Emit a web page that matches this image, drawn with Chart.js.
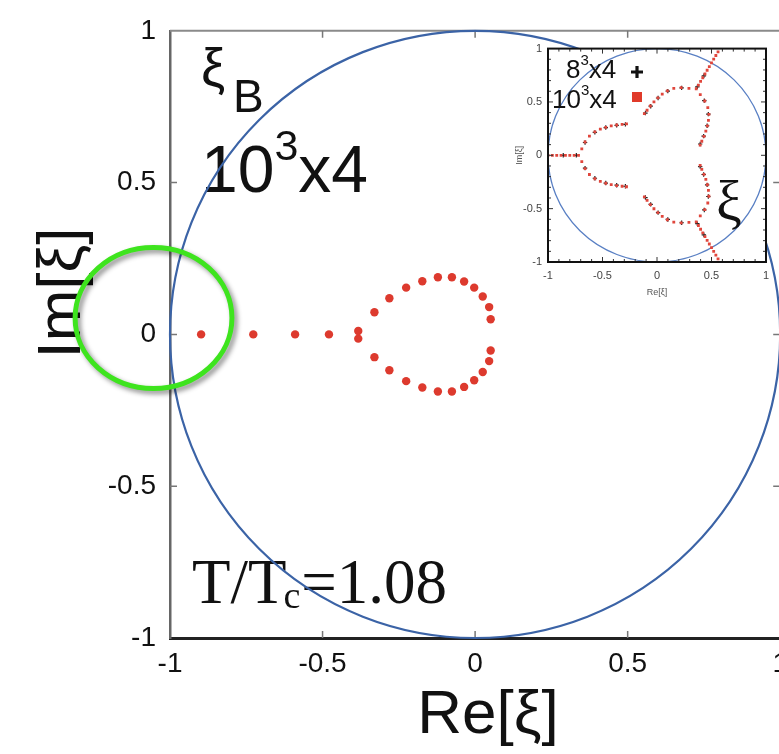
<!DOCTYPE html>
<html>
<head>
<meta charset="utf-8">
<script src="https://cdn.jsdelivr.net/npm/chart.js@4.4.1/dist/chart.umd.min.js"></script>
<style>
  html, body { margin: 0; padding: 0; background: #ffffff; overflow: hidden; }
  #wrap { position: relative; width: 779px; height: 754px; overflow: hidden; }
  #mainChart { position: absolute; left: 0; top: 0; }
  #insetChart { position: absolute; left: 510px; top: 36px; }
</style>
</head>
<body>
<div id="wrap">
  <canvas id="mainChart" width="797" height="754"></canvas>
  <canvas id="insetChart" width="269" height="266"></canvas>
</div>
<script>
// Lee-Yang zeros of the baryon fugacity xi_B, 10^3x4 lattice, T/Tc = 1.08
const zerosAxisRe  = [-0.898, -0.727, -0.590, -0.479];
const zerosAxisIm  = [0, 0, 0, 0];
const zerosUpperRe = [-0.383, -0.330, -0.281, -0.226, -0.173, -0.122, -0.076, -0.036, -0.003, 0.025, 0.046, 0.051];
const zerosUpperIm = [0.011, 0.073, 0.119, 0.154, 0.175, 0.188, 0.188, 0.174, 0.154, 0.125, 0.090, 0.050];
const zerosLowerRe = [-0.383, -0.330, -0.281, -0.226, -0.173, -0.122, -0.076, -0.036, -0.003, 0.025, 0.046, 0.051];
const zerosLowerIm = [-0.014, -0.075, -0.118, -0.154, -0.175, -0.188, -0.188, -0.173, -0.151, -0.124, -0.088, -0.053];

// axis ticks (both charts)
const tickValues = [-1, -0.5, 0, 0.5, 1];
const tickLabels = ['-1', '-0.5', '0', '0.5', '1'];

// highlighted region around the outermost zero (centre Re, Im and half-axes)
const highlightCentre = [-1.054, 0.054];
const highlightRadii  = [0.257, 0.232];

// inset: zeros of xi (canonical fugacity), 10^3x4 lattice
const inset10Left = [[-1.00,0],[-0.96,0],[-0.92,0],[-0.88,0],[-0.84,0],[-0.80,0],[-0.76,0],[-0.72,0],
  [-0.69,0.06],[-0.66,0.125],[-0.62,0.18],[-0.57,0.22],[-0.52,0.245],[-0.47,0.262],[-0.42,0.275],[-0.37,0.284],[-0.32,0.29],[-0.28,0.295],
  [-0.69,-0.06],[-0.66,-0.125],[-0.62,-0.18],[-0.57,-0.22],[-0.52,-0.245],[-0.47,-0.262],[-0.42,-0.275],[-0.37,-0.284],[-0.32,-0.29],[-0.28,-0.295]];
const inset10Upper = [[0.36,0.624],[0.38,0.658],[0.40,0.693],[0.42,0.727],[0.44,0.762],[0.46,0.797],[0.48,0.831],[0.50,0.866],[0.52,0.901],[0.54,0.935],[0.56,0.970],
  [0.397,0.568],[0.438,0.509],[0.466,0.447],[0.476,0.384],[0.472,0.328],[0.462,0.276],[0.448,0.226],[0.431,0.178],[0.411,0.132],[0.396,0.095],
  [0.293,0.628],[0.222,0.634],[0.154,0.627],[0.095,0.604],[0.048,0.573],[0.008,0.538],[-0.028,0.501],[-0.061,0.462],[-0.091,0.422],[-0.116,0.390]];
const inset10Lower = [[0.36,-0.624],[0.38,-0.658],[0.40,-0.693],[0.42,-0.727],[0.44,-0.762],[0.46,-0.797],[0.48,-0.831],[0.50,-0.866],[0.52,-0.901],[0.54,-0.935],[0.56,-0.970],
  [0.397,-0.568],[0.438,-0.509],[0.466,-0.447],[0.476,-0.384],[0.472,-0.328],[0.462,-0.276],[0.448,-0.226],[0.431,-0.178],[0.411,-0.132],[0.396,-0.095],
  [0.293,-0.628],[0.222,-0.634],[0.154,-0.627],[0.095,-0.604],[0.048,-0.573],[0.008,-0.538],[-0.028,-0.501],[-0.061,-0.462],[-0.091,-0.422],[-0.116,-0.390]];
// inset: 8^3x4 lattice
const inset8Left = [[-0.74,0],[-0.86,0],
  [-0.66,0.12],[-0.57,0.215],[-0.47,0.26],[-0.37,0.28],[-0.29,0.29],
  [-0.66,-0.12],[-0.57,-0.215],[-0.47,-0.26],[-0.37,-0.28],[-0.29,-0.29]];
const inset8Upper = [[0.37,0.641],[0.43,0.745],
  [0.434,0.512],[0.471,0.386],[0.46,0.277],[0.428,0.180],[0.396,0.106],
  [0.226,0.632],[0.099,0.601],[0.01,0.537],[-0.058,0.460],[-0.106,0.396]];
const inset8Lower = [[0.37,-0.641],[0.43,-0.745],
  [0.434,-0.512],[0.471,-0.386],[0.46,-0.277],[0.428,-0.180],[0.396,-0.106],
  [0.226,-0.632],[0.099,-0.601],[0.01,-0.537],[-0.058,-0.460],[-0.106,-0.396]];

const SANS = "'Liberation Sans', Arial, Helvetica, sans-serif";
const SERIF = "'Liberation Serif', 'Times New Roman', serif";
const RED = '#dd3a2e';
const BLUE = '#3b63a6';

const toXY = (re, im) => re.map((r, i) => ({ x: r, y: im[i] }));
const pairsToXY = p => p.map(([x, y]) => ({ x, y }));

function fixedTicks(scale) { scale.ticks = tickValues.map(v => ({ value: v })); }
function tickText(v) { const i = tickValues.indexOf(v); return i >= 0 ? tickLabels[i] : ''; }

// draws a run of text pieces with their own fonts and vertical offsets
function richText(ctx, x, y, parts) {
  let cx = x;
  for (const p of parts) {
    ctx.font = p.font;
    ctx.fillText(p.text, cx, y + (p.dy || 0));
    cx += ctx.measureText(p.text).width + (p.gap || 0);
  }
  return cx;
}

const mainDecor = {
  id: 'mainDecor',
  beforeDatasetsDraw(chart) {
    const { ctx, chartArea: a, scales: { x, y } } = chart;
    ctx.save();
    // annotations inside the plot
    ctx.fillStyle = '#111';
    ctx.textAlign = 'left';
    ctx.textBaseline = 'alphabetic';
    richText(ctx, 201, 86, [{ text: 'ξ', font: `54px ${SANS}` }]);
    richText(ctx, 233, 112, [{ text: 'B', font: `46px ${SANS}` }]);
    richText(ctx, 201, 192, [
      { text: '10', font: `66px ${SANS}`, gap: 0 },
      { text: '3', font: `43px ${SANS}`, dy: -32, gap: 0 },
      { text: 'x4', font: `66px ${SANS}` }
    ]);
    richText(ctx, 192, 603, [
      { text: 'T/T', font: `63px ${SERIF}`, gap: -3 },
      { text: 'c', font: `38px ${SERIF}`, dy: 5, gap: 1 },
      { text: '=1.08', font: `63px ${SERIF}` }
    ]);

    // frame: top and right edges
    ctx.strokeStyle = '#8a8a8a';
    ctx.lineWidth = 2;
    ctx.beginPath();
    ctx.moveTo(a.left, a.top);
    ctx.lineTo(a.right, a.top);
    ctx.lineTo(a.right, a.bottom);
    ctx.stroke();

    // inward tick marks on all four sides
    ctx.strokeStyle = '#777';
    ctx.lineWidth = 1.5;
    ctx.beginPath();
    for (const v of tickValues) {
      if (v <= -1 || v >= 1) continue;
      const px = x.getPixelForValue(v);
      ctx.moveTo(px, a.top); ctx.lineTo(px, a.top + 7);
      ctx.moveTo(px, a.bottom); ctx.lineTo(px, a.bottom - 7);
      const py = y.getPixelForValue(v);
      ctx.moveTo(a.left, py); ctx.lineTo(a.left + 7, py);
      ctx.moveTo(a.right, py); ctx.lineTo(a.right - 7, py);
    }
    ctx.stroke();

    // unit circle |xi| = 1
    const cx = x.getPixelForValue(0), cy = y.getPixelForValue(0);
    const rx = x.getPixelForValue(1) - cx, ry = cy - y.getPixelForValue(1);
    ctx.strokeStyle = BLUE;
    ctx.lineWidth = 2.2;
    ctx.beginPath();
    ctx.ellipse(cx, cy, rx, ry, 0, 0, Math.PI * 2);
    ctx.stroke();
    ctx.restore();
  },
  afterDraw(chart) {
    const { ctx, scales: { x, y } } = chart;
    ctx.save();
    // axis titles
    ctx.fillStyle = '#111';
    ctx.font = `62px ${SANS}`;
    ctx.textAlign = 'center';
    ctx.textBaseline = 'alphabetic';
    ctx.fillText('Re[ξ]', 488, 733);
    ctx.translate(80, 293);
    ctx.rotate(-Math.PI / 2);
    ctx.fillText('Im[ξ]', 0, 0);
    ctx.restore();

    // green ring around the outermost zero
    ctx.save();
    const ex = x.getPixelForValue(highlightCentre[0]);
    const ey = y.getPixelForValue(highlightCentre[1]);
    const erx = x.getPixelForValue(highlightCentre[0] + highlightRadii[0]) - ex;
    const ery = ey - y.getPixelForValue(highlightCentre[1] + highlightRadii[1]);
    ctx.shadowColor = 'rgba(0,0,0,0.45)';
    ctx.shadowBlur = 5;
    ctx.shadowOffsetX = 3;
    ctx.shadowOffsetY = 3;
    ctx.strokeStyle = '#3ee41e';
    ctx.lineWidth = 5;
    ctx.beginPath();
    ctx.ellipse(ex, ey, erx, ery, 0, 0, Math.PI * 2);
    ctx.stroke();
    ctx.restore();
  }
};

new Chart(document.getElementById('mainChart'), {
  type: 'scatter',
  data: {
    datasets: [
      { data: toXY(zerosAxisRe, zerosAxisIm), backgroundColor: RED, borderWidth: 0, pointRadius: 4.2 },
      { data: toXY(zerosUpperRe, zerosUpperIm), backgroundColor: RED, borderWidth: 0, pointRadius: 4.2 },
      { data: toXY(zerosLowerRe, zerosLowerIm), backgroundColor: RED, borderWidth: 0, pointRadius: 4.2 }
    ]
  },
  options: {
    responsive: false,
    animation: false,
    events: [],
    layout: { padding: { top: 30, right: 0, left: 0, bottom: 0 } },
    plugins: { legend: { display: false }, tooltip: { enabled: false } },
    scales: {
      x: {
        type: 'linear', min: -1, max: 1,
        afterBuildTicks: fixedTicks,
        afterFit(s) { s.height = 116; },
        grid: { display: false, drawTicks: false },
        border: { display: true, color: '#222', width: 3 },
        ticks: { callback: tickText, autoSkip: false, maxRotation: 0, padding: 9, color: '#111', font: { family: SANS, size: 28 } }
      },
      y: {
        type: 'linear', min: -1, max: 1,
        afterBuildTicks: fixedTicks,
        afterFit(s) { s.width = 170; },
        grid: { display: false, drawTicks: false },
        border: { display: true, color: '#666', width: 2.5 },
        ticks: { callback: tickText, autoSkip: false, padding: 14, color: '#111', font: { family: SANS, size: 28 } }
      }
    }
  },
  plugins: [mainDecor]
});

// ---------- inset ----------
const insetDecor = {
  id: 'insetDecor',
  beforeDraw(chart) {
    const { ctx, chartArea: a } = chart;
    ctx.save();
    ctx.fillStyle = '#ffffff';
    ctx.fillRect(a.left, a.top, a.right - a.left, a.bottom - a.top);
    ctx.restore();
  },
  beforeDatasetsDraw(chart) {
    const { ctx, chartArea: a, scales: { x, y } } = chart;
    ctx.save();
    ctx.beginPath();
    ctx.rect(a.left, a.top, a.right - a.left, a.bottom - a.top);
    ctx.clip();
    const cx = x.getPixelForValue(0), cy = y.getPixelForValue(0);
    ctx.strokeStyle = '#5a80c4';
    ctx.lineWidth = 1.3;
    ctx.beginPath();
    ctx.ellipse(cx, cy, x.getPixelForValue(1) - cx, cy - y.getPixelForValue(1), 0, 0, Math.PI * 2);
    ctx.stroke();

    // big xi label
    ctx.fillStyle = '#111';
    ctx.textBaseline = 'alphabetic';
    ctx.textAlign = 'left';
    ctx.font = `58px ${SERIF}`;
    ctx.fillText('ξ', 716 - 510, 220 - 36);

    // legend
    richText(ctx, 566 - 510, 78 - 36, [
      { text: '8', font: `26px ${SANS}` },
      { text: '3', font: `15px ${SANS}`, dy: -13 },
      { text: 'x4', font: `26px ${SANS}` }
    ]);
    richText(ctx, 552 - 510, 108 - 36, [
      { text: '10', font: `26px ${SANS}` },
      { text: '3', font: `15px ${SANS}`, dy: -13 },
      { text: 'x4', font: `26px ${SANS}` }
    ]);
    const mx = 637 - 510;
    ctx.strokeStyle = '#111';
    ctx.lineWidth = 3.2;
    ctx.beginPath();
    ctx.moveTo(mx - 6, 72 - 36); ctx.lineTo(mx + 6, 72 - 36);
    ctx.moveTo(mx, 66 - 36); ctx.lineTo(mx, 78 - 36);
    ctx.stroke();
    ctx.fillStyle = '#e03a2a';
    ctx.fillRect(mx - 5, 97 - 36 - 5, 10, 10);
    ctx.restore();
  },
  afterDraw(chart) {
    const { ctx, chartArea: a, scales: { x, y } } = chart;
    ctx.save();
    ctx.strokeStyle = '#333';
    ctx.lineWidth = 1;
    ctx.beginPath();
    for (let k = -9; k <= 9; k++) {
      const v = k / 10;
      const len = (k % 5 === 0) ? 5 : 3;
      const px = x.getPixelForValue(v), py = y.getPixelForValue(v);
      ctx.moveTo(px, a.top); ctx.lineTo(px, a.top + len);
      ctx.moveTo(px, a.bottom); ctx.lineTo(px, a.bottom - len);
      ctx.moveTo(a.left, py); ctx.lineTo(a.left + len, py);
      ctx.moveTo(a.right, py); ctx.lineTo(a.right - len, py);
    }
    ctx.stroke();
    ctx.strokeStyle = '#111';
    ctx.lineWidth = 2;
    ctx.strokeRect(a.left, a.top, a.right - a.left, a.bottom - a.top);
    ctx.restore();
  }
};

const redSet = p => ({ data: pairsToXY(p), pointStyle: 'rect', pointRadius: 2, backgroundColor: '#e0463c', borderWidth: 0 });
const blackSet = p => ({ data: pairsToXY(p), pointStyle: 'cross', pointRadius: 2.2, borderColor: '#222', borderWidth: 1.2 });

new Chart(document.getElementById('insetChart'), {
  type: 'scatter',
  data: {
    datasets: [
      redSet(inset10Left), redSet(inset10Upper), redSet(inset10Lower),
      blackSet(inset8Left), blackSet(inset8Upper), blackSet(inset8Lower)
    ]
  },
  options: {
    responsive: false,
    animation: false,
    events: [],
    layout: { padding: { top: 10, right: 13, left: 0, bottom: 0 } },
    plugins: { legend: { display: false }, tooltip: { enabled: false } },
    scales: {
      x: {
        type: 'linear', min: -1, max: 1,
        afterBuildTicks: fixedTicks,
        afterFit(s) { s.height = 40; },
        grid: { display: false, drawTicks: false },
        border: { display: false },
        title: { display: true, text: 'Re[ξ]', color: '#555', font: { family: SANS, size: 9 }, padding: { top: 0, bottom: 4 } },
        ticks: { callback: tickText, autoSkip: false, maxRotation: 0, padding: 7, color: '#444', font: { family: SANS, size: 11 } }
      },
      y: {
        type: 'linear', min: -1, max: 1,
        afterBuildTicks: fixedTicks,
        afterFit(s) { s.width = 38; },
        grid: { display: false, drawTicks: false },
        border: { display: false },
        title: { display: true, text: 'Im[ξ]', color: '#555', font: { family: SANS, size: 9 }, padding: { top: 4, bottom: 0 } },
        ticks: { callback: tickText, autoSkip: false, padding: 6, color: '#444', font: { family: SANS, size: 11 } }
      }
    }
  },
  plugins: [insetDecor]
});
</script>
</body>
</html>
